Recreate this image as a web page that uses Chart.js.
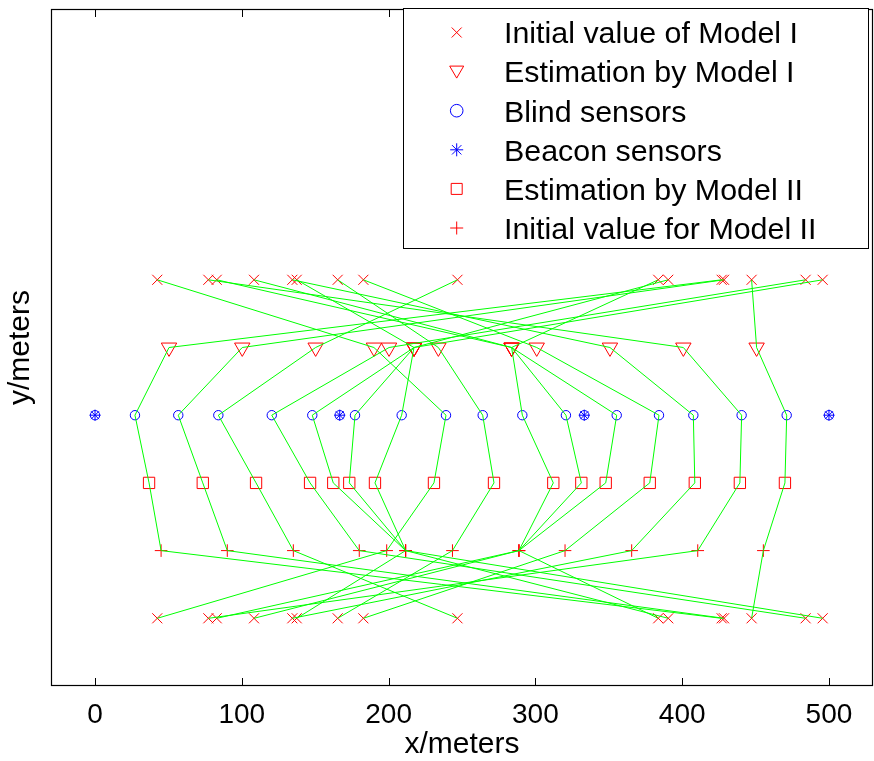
<!DOCTYPE html>
<html><head><meta charset="utf-8">
<script src="https://cdn.jsdelivr.net/npm/chart.js@4.4.1/dist/chart.umd.min.js"></script>
<style>html,body{margin:0;padding:0;background:#fff;}canvas{display:block;}</style>
</head><body>
<canvas id="c" width="874" height="761"></canvas>
<script>
// ---- data ----
const X_TICKS = [0, 100, 200, 300, 400, 500];
const BEACON_X = [0, 166.7, 333.3, 500];
// one entry per blind sensor (ordered by true position)
const BLIND_X = [27.2, 56.7, 84.0, 120.4, 148.0, 177.1, 208.9, 239.1, 264.1, 291.1, 320.8, 355.4, 384.2, 407.6, 440.5, 471.2];
const INIT_X  = [426.9, 428.5, 246.9, 484.1, 495.7, 137.4, 390.5, 42.4, 165.3, 82.9, 383.7, 108.3, 182.8, 134.4, 77.2, 447.3];
const EST1_X  = [50.4, 100.3, 150.3, 200.3, 217.3, 217.3, 217.3, 190.0, 233.9, 283.8, 283.8, 283.8, 300.9, 350.8, 400.8, 450.7];
const EST2_X  = [36.8, 73.4, 109.7, 146.5, 162.3, 173.2, 190.7, 230.9, 271.8, 312.2, 331.3, 347.9, 377.9, 408.6, 439.3, 470.0];
const INIT2_X = [45.0, 90.1, 135.1, 180.0, 211.6, 211.6, 211.6, 198.7, 243.5, 288.8, 288.8, 288.8, 320.2, 365.6, 410.6, 455.3];
// row (y) of each kind of point
const ROW_INIT1 = 2, ROW_EST1 = 1, ROW_SENSOR = 0, ROW_EST2 = -1, ROW_INIT2 = -2, ROW_INIT1_LOW = -3;
const LABELS = ['Initial value of Model I', 'Estimation by Model I', 'Blind sensors', 'Beacon sensors', 'Estimation by Model II', 'Initial value for Model II'];

const RED = '#ff0000', BLUE = '#0000ff', GREEN = '#00ff00';
const pts = (xs, y) => xs.map(x => ({x: x, y: y}));

const markerSets = [
  {label: LABELS[0], data: pts(INIT_X, ROW_INIT1).concat(pts(INIT_X, ROW_INIT1_LOW)), pointStyle: 'crossRot', pointRadius: 7.1, borderColor: RED},
  {label: LABELS[1], data: pts(EST1_X, ROW_EST1), pointStyle: 'triangle', rotation: 180, pointRadius: 8.9, borderColor: RED},
  {label: LABELS[2], data: pts(BLIND_X, ROW_SENSOR), pointStyle: 'circle', pointRadius: 4.7, borderColor: BLUE},
  {label: LABELS[3], data: pts(BEACON_X, ROW_SENSOR), pointStyle: 'star', pointRadius: 5.6, borderColor: BLUE},
  {label: '_beacon_ring', data: pts(BEACON_X, ROW_SENSOR), pointStyle: 'circle', pointRadius: 4.7, borderColor: BLUE},
  {label: LABELS[4], data: pts(EST2_X, ROW_EST2), pointStyle: 'rect', pointRadius: 8, borderColor: RED},
  {label: LABELS[5], data: pts(INIT2_X, ROW_INIT2), pointStyle: 'cross', pointRadius: 6.3, borderColor: RED}
].map(d => Object.assign({showLine: false, borderWidth: 1, backgroundColor: 'rgba(0,0,0,0)', pointBorderWidth: 1, pointHoverRadius: 0}, d));

const linkSets = BLIND_X.map((b, i) => ({
  label: '_link' + i,
  data: [
    {x: INIT_X[i], y: ROW_INIT1}, {x: EST1_X[i], y: ROW_EST1}, {x: b, y: ROW_SENSOR},
    {x: EST2_X[i], y: ROW_EST2}, {x: INIT2_X[i], y: ROW_INIT2}, {x: INIT_X[i], y: ROW_INIT1_LOW}
  ],
  showLine: true, borderColor: GREEN, borderWidth: 1, pointRadius: 0, pointHoverRadius: 0, tension: 0, fill: false
}));

function drawMarker(ctx, style, x, y) {
  ctx.beginPath();
  if (style === 'x') { const s = 5; ctx.moveTo(x - s, y - s); ctx.lineTo(x + s, y + s); ctx.moveTo(x - s, y + s); ctx.lineTo(x + s, y - s); }
  else if (style === 'v') { ctx.moveTo(x - 7, y - 5.5); ctx.lineTo(x + 7, y - 5.5); ctx.lineTo(x, y + 6.5); ctx.closePath(); }
  else if (style === 'o') { ctx.arc(x, y, 6.3, 0, Math.PI * 2); }
  else if (style === '*') { const s = 6.5, d = s * 0.72; ctx.moveTo(x - s, y); ctx.lineTo(x + s, y); ctx.moveTo(x, y - s); ctx.lineTo(x, y + s); ctx.moveTo(x - d, y - d); ctx.lineTo(x + d, y + d); ctx.moveTo(x - d, y + d); ctx.lineTo(x + d, y - d); }
  else if (style === 's') { ctx.rect(x - 5.5, y - 5.5, 11, 11); }
  else if (style === '+') { const s = 6.5; ctx.moveTo(x - s, y); ctx.lineTo(x + s, y); ctx.moveTo(x, y - s); ctx.lineTo(x, y + s); }
  ctx.stroke();
}

const framePlugin = {
  id: 'frame',
  afterDraw(chart) {
    const ctx = chart.ctx, a = chart.chartArea, xs = chart.scales.x;
    ctx.save();
    ctx.strokeStyle = '#000'; ctx.lineWidth = 1.2;
    ctx.strokeRect(a.left + 0.5, a.top + 0.5, a.right - a.left - 1, a.bottom - a.top - 1);
    ctx.lineWidth = 1;
    ctx.beginPath();
    X_TICKS.forEach(v => {
      const p = Math.round(xs.getPixelForValue(v)) + 0.5;
      ctx.moveTo(p, a.bottom); ctx.lineTo(p, a.bottom - 8);
      ctx.moveTo(p, a.top); ctx.lineTo(p, a.top + 8);
    });
    ctx.stroke();
    // legend
    const L = 403.5, T = 8.5, R = 868.5, B = 248.5;
    ctx.fillStyle = '#fff'; ctx.fillRect(L, T, R - L, B - T);
    ctx.strokeStyle = '#000'; ctx.lineWidth = 1; ctx.strokeRect(L, T, R - L, B - T);
    const styles = ['x', 'v', 'o', '*', 's', '+'];
    const colors = [RED, RED, BLUE, BLUE, RED, RED];
    ctx.font = '30.4px "Liberation Sans", Arial, sans-serif';
    ctx.textBaseline = 'alphabetic'; ctx.textAlign = 'left';
    for (let i = 0; i < LABELS.length; i++) {
      const cy = 32.5 + i * 39.1;
      ctx.strokeStyle = colors[i]; ctx.lineWidth = 1;
      drawMarker(ctx, styles[i], 456.7, cy);
      ctx.fillStyle = '#000';
      ctx.fillText(LABELS[i], 504, cy + 10.8);
    }
    ctx.restore();
  }
};

new Chart(document.getElementById('c'), {
  type: 'scatter',
  data: {datasets: linkSets.concat(markerSets)},
  plugins: [framePlugin],
  options: {
    responsive: false, animation: false, devicePixelRatio: 1,
    layout: {autoPadding: false, padding: {top: 9, right: 1, left: 0, bottom: 0}},
    plugins: {legend: {display: false}, tooltip: {enabled: false}},
    events: [],
    scales: {
      x: {
        type: 'linear', min: -30, max: 530,
        grid: {display: false, drawTicks: false}, border: {display: false},
        afterBuildTicks: s => { s.ticks = X_TICKS.map(v => ({value: v})); },
        afterFit: s => { s.height = 75; s.paddingLeft = 0; s.paddingRight = 0; },
        ticks: {color: '#000', font: {family: '"Liberation Sans", Arial, sans-serif', size: 28}, padding: 12, maxRotation: 0, autoSkip: false},
        title: {display: true, text: 'x/meters', color: '#000', font: {family: '"Liberation Sans", Arial, sans-serif', size: 30, lineHeight: 1}, padding: {top: 0, bottom: 1}}
      },
      y: {
        type: 'linear', min: -4, max: 6,
        grid: {display: false, drawTicks: false}, border: {display: false},
        ticks: {display: false},
        afterFit: s => { s.width = 51; s.paddingTop = 0; s.paddingBottom = 0; },
        title: {display: true, text: 'y/meters', color: '#000', font: {family: '"Liberation Sans", Arial, sans-serif', size: 30, lineHeight: 1}, padding: {top: 6, bottom: 0}}
      }
    }
  }
});
</script>
</body></html>
